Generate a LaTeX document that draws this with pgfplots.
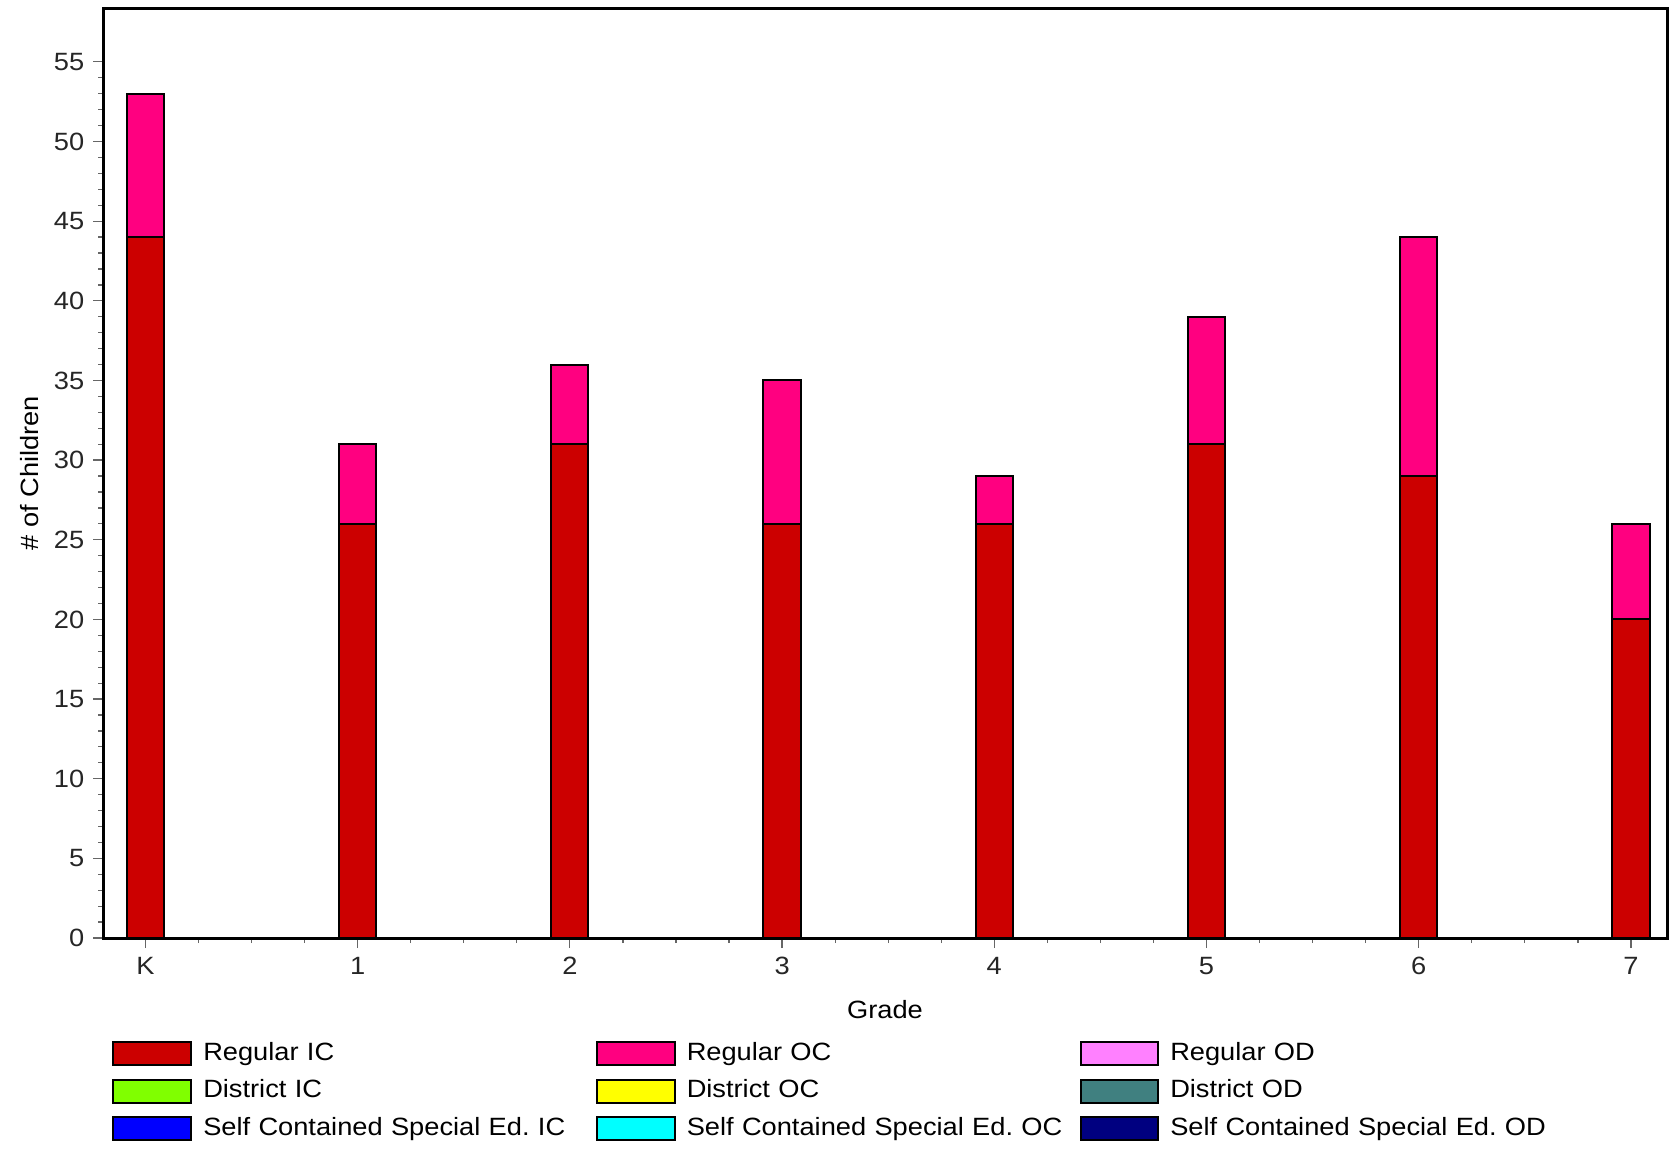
\documentclass[border=0pt]{standalone}
\usepackage{pgfplots}
\usepackage{pgfplotstable}
\pgfplotsset{compat=1.18}
\usepackage{fontspec}
\setmainfont{Liberation Sans}[FakeStretch=1.09]
\frenchspacing

\definecolor{regIC}{RGB}{204,0,0}
\definecolor{regOC}{RGB}{255,0,128}
\definecolor{regOD}{RGB}{255,128,255}
\definecolor{disIC}{RGB}{128,255,0}
\definecolor{disOC}{RGB}{255,255,0}
\definecolor{disOD}{RGB}{64,128,128}
\definecolor{selIC}{RGB}{0,0,255}
\definecolor{selOC}{RGB}{0,255,255}
\definecolor{selOD}{RGB}{0,0,128}

% grade (K=0), regular IC, regular OC
\pgfplotstableread{
x  ic  oc
0  44  9
1  26  5
2  31  5
3  26  9
4  26  3
5  31  8
6  29  15
7  20  6
}\gradedata

\pgfplotsset{
  sw/.style={legend image code/.code={
    \draw[##1,draw=black,line width=0.8pt] (0pt,-4.6pt) rectangle (31pt,4.6pt);}},
}

\begin{document}
\begin{tikzpicture}
\begin{axis}[
  scale only axis,
  width=625.6pt, height=371.8pt,
  xmin=-0.2, xmax=7.17,
  ymin=0, ymax=58.35,
  ybar stacked, bar width=14.9pt,
  xtick={0,...,7},
  xticklabels={K,1,2,3,4,5,6,7},
  ytick={0,5,...,55},
  minor x tick num=3,
  minor y tick num=4,
  xtick pos=lower, ytick pos=left,
  tick align=outside,
  major tick length=4pt, minor tick length=2pt,
  tick style={black!60, line width=0.5pt},
  axis line style={line width=1.2pt},
  /pgf/number format/assume math mode=true,
  tick label style={font=\fontsize{10}{12}\selectfont, text=black!85},
  every axis x label/.style={at={(rel axis cs:0.5,0)}, yshift=-28.8pt, anchor=center},
  every axis y label/.style={at={(rel axis cs:0,0.5)}, xshift=-29.2pt, rotate=90, anchor=center},
  label style={font=\fontsize{10}{12}\selectfont},
  xlabel={Grade},
  ylabel={\# of Children},
  legend columns=3,
  legend cell align=left,
  legend style={draw=none, fill=none, inner sep=0pt,
    at={(0,0)}, anchor=north west, xshift=3.6pt, yshift=-41pt,
    font=\fontsize{10}{12}\selectfont,
    nodes={text width=156.6pt, align=left, inner sep=0.5pt, text height=7.2pt, text depth=2pt},
    row sep=4.8pt,
    /tikz/every odd column/.append style={column sep=4pt}},
]
\addplot[sw, fill=regIC, draw=black, line width=0.8pt] table[x=x, y=ic] {\gradedata};
\addplot[sw, fill=regOC, draw=black, line width=0.8pt] table[x=x, y=oc] {\gradedata};
\addlegendimage{sw, fill=regOD}
\addlegendimage{sw, fill=disIC}
\addlegendimage{sw, fill=disOC}
\addlegendimage{sw, fill=disOD}
\addlegendimage{sw, fill=selIC}
\addlegendimage{sw, fill=selOC}
\addlegendimage{sw, fill=selOD}
\legend{Regular IC, Regular OC, Regular OD,
        District IC, District OC, District OD,
        Self Contained Special Ed. IC, Self Contained Special Ed. OC, Self Contained Special Ed. OD}
\coordinate (bl) at (rel axis cs:0,0);
\coordinate (tr) at (rel axis cs:1,1);
\end{axis}
\pgfresetboundingbox
\path[use as bounding box] ([xshift=-41.2pt,yshift=-84pt]bl) rectangle ([xshift=1.6pt,yshift=3.4pt]tr);
\end{tikzpicture}
\end{document}
